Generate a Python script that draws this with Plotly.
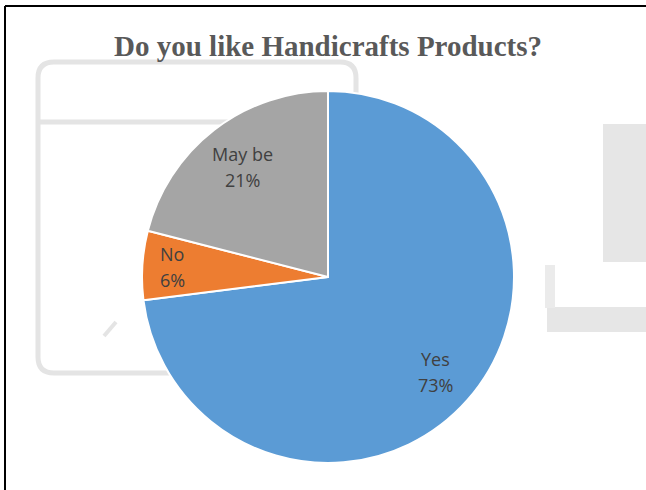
import math
import plotly.graph_objects as go

# Survey answers
answers = ["Yes", "No", "May be"]
shares = [73, 6, 21]
slice_colors = ["#5B9BD5", "#ED7D31", "#A5A5A5"]
# radial placement of each data label, as a fraction of the pie radius
label_radius = [0.77, 0.84, 0.75]

W, H = 646, 490
CX, CY, R = 328, 277, 186  # pie centre and radius in pixels
LINE_GAP = 13  # half the distance between the two label lines, px


def px(x):
    return x / W


def py(y):
    return 1 - y / H


fig = go.Figure(
    go.Pie(
        labels=answers,
        values=shares,
        sort=False,
        direction="clockwise",
        rotation=0,
        marker=dict(colors=slice_colors, line=dict(color="white", width=2)),
        textinfo="none",
        hoverinfo="label+percent",
        showlegend=False,
        domain=dict(x=[px(CX - R), px(CX + R)], y=[py(CY + R), py(CY - R)]),
    )
)

label_font = dict(family="Open Sans, Liberation Sans, sans-serif", size=18, color="#404040")

# Data labels at each slice's mid-angle (clockwise from 12 o'clock)
total = sum(shares)
annotations = []
cum = 0
for name, v, rf in zip(answers, shares, label_radius):
    mid = (cum + v / 2) / total * 2 * math.pi
    cum += v
    lx = CX + rf * R * math.sin(mid)
    ly = CY - rf * R * math.cos(mid)
    for line_text, dy in ((name, -LINE_GAP), (f"{round(v / total * 100)}%", LINE_GAP)):
        annotations.append(
            dict(
                text=line_text,
                xref="paper", yref="paper", x=px(lx), y=py(ly + dy),
                xanchor="center", yanchor="middle", showarrow=False,
                font=label_font,
            )
        )

annotations.append(
    dict(
        text="<b>Do you like Handicrafts Products?</b>",
        xref="paper", yref="paper", x=px(328), y=py(46),
        xanchor="center", yanchor="middle", showarrow=False,
        font=dict(family="Liberation Serif, Times New Roman, serif", size=29, color="#595959"),
    )
)


def rounded_rect(x0, y0, x1, y1, r):
    ax0, ax1 = px(x0), px(x1)
    ay0, ay1 = py(y0), py(y1)
    rx, ry = r / W, r / H
    return (
        f"M {ax0 + rx},{ay0} L {ax1 - rx},{ay0} Q {ax1},{ay0} {ax1},{ay0 - ry} "
        f"L {ax1},{ay1 + ry} Q {ax1},{ay1} {ax1 - rx},{ay1} "
        f"L {ax0 + rx},{ay1} Q {ax0},{ay1} {ax0},{ay1 + ry} "
        f"L {ax0},{ay0 - ry} Q {ax0},{ay0} {ax0 + rx},{ay0} Z"
    )


faint = "#e4e4e4"
shapes = [
    # frame around the figure
    dict(type="line", xref="paper", yref="paper", x0=px(5), x1=1, y0=py(6), y1=py(6),
         line=dict(color="black", width=2)),
    dict(type="line", xref="paper", yref="paper", x0=px(5), x1=px(5), y0=py(6), y1=0,
         line=dict(color="black", width=2)),
    # faint background emblem
    dict(type="path", xref="paper", yref="paper", layer="below",
         path=rounded_rect(38, 62, 356, 373, 16),
         line=dict(color=faint, width=5)),
    dict(type="line", xref="paper", yref="paper", layer="below",
         x0=px(40), x1=px(300), y0=py(122), y1=py(122),
         line=dict(color=faint, width=5)),
    dict(type="rect", xref="paper", yref="paper", layer="below",
         x0=px(603), x1=1, y0=py(262), y1=py(124),
         line=dict(width=0), fillcolor="#e6e6e6"),
    dict(type="rect", xref="paper", yref="paper", layer="below",
         x0=px(547), x1=1, y0=py(332), y1=py(307),
         line=dict(width=0), fillcolor="#e6e6e6"),
    dict(type="rect", xref="paper", yref="paper", layer="below",
         x0=px(545), x1=px(555), y0=py(308), y1=py(265),
         line=dict(width=0), fillcolor="#ebebeb"),
    dict(type="line", xref="paper", yref="paper", layer="below",
         x0=px(104), x1=px(116), y0=py(336), y1=py(322),
         line=dict(color=faint, width=4)),
]

fig.update_layout(
    width=W,
    height=H,
    margin=dict(l=0, r=0, t=0, b=0),
    paper_bgcolor="white",
    plot_bgcolor="white",
    shapes=shapes,
    annotations=annotations,
)

fig.write_html("out.html")
